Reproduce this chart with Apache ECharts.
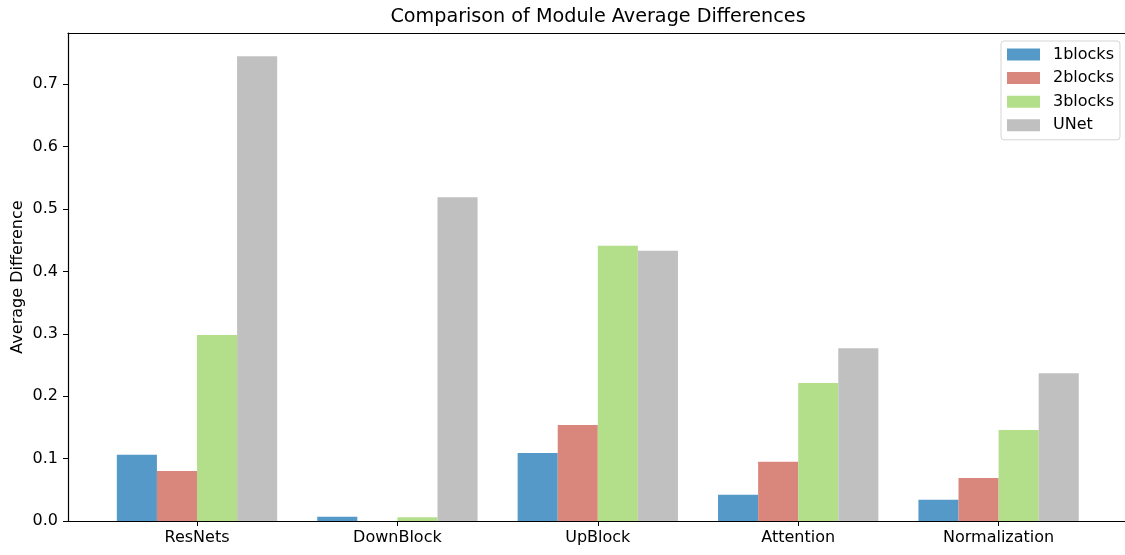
<!DOCTYPE html>
<html>
<head>
<meta charset="utf-8">
<script src="https://cdn.jsdelivr.net/npm/echarts@6/dist/echarts.min.js"></script>
<style>
html,body{margin:0;padding:0;background:#fff;}
#chart{width:1125px;height:555px;}
</style>
</head>
<body>
<div id="chart"></div>
<script>
const categories = ['ResNets', 'DownBlock', 'UpBlock', 'Attention', 'Normalization'];
const seriesNames = ['1blocks', '2blocks', '3blocks', 'UNet'];
const blocks1 = [0.106, 0.007, 0.109, 0.042, 0.034];
const blocks2 = [0.080, 0.000, 0.154, 0.095, 0.069];
const blocks3 = [0.298, 0.006, 0.441, 0.221, 0.146];
const unet = [0.745, 0.519, 0.433, 0.277, 0.237];
const yTickInterval = 0.1;
const yMax = 0.7822;

const colors = ['#5599c8', '#d9877d', '#b3df8a', '#c0c0c0'];
const values = [blocks1, blocks2, blocks3, unet];
const FONT = 'DejaVu Sans';
const FS = 16;

const chart = echarts.init(document.getElementById('chart'), null, {renderer: 'canvas'});
const option = {
  animation: false,
  backgroundColor: '#fff',
  textStyle: {fontFamily: FONT, color: '#000'},
  title: {
    text: 'Comparison of Module Average Differences',
    left: 598, textAlign: 'center', top: 8, padding: 0,
    textStyle: {fontFamily: FONT, fontSize: 19.2, fontWeight: 'normal', color: '#000'}
  },
  legend: {
    data: seriesNames,
    orient: 'vertical',
    left: 1001, top: 41,
    padding: [5.5, 6, 6.5, 6],
    itemWidth: 33, itemHeight: 12, itemGap: 7.6,
    backgroundColor: '#fff',
    borderColor: '#d5d5d5', borderWidth: 1, borderRadius: 3,
    icon: 'rect',
    textStyle: {fontFamily: FONT, fontSize: FS, color: '#000', lineHeight: 16, padding: [0, 0, 0, 8]}
  },
  grid: [
    {left: 96.8, right: 26.2, top: 33, bottom: 34},
    {left: 68, right: 0, top: 33, bottom: 34}
  ],
  xAxis: [
    {
      type: 'category', gridIndex: 0, data: categories,
      axisLine: {show: false},
      axisTick: {show: true, alignWithLabel: true, length: 5, lineStyle: {color: '#000', width: 1}},
      axisLabel: {fontFamily: FONT, fontSize: FS, color: '#000', margin: 9},
      splitLine: {show: false}
    },
    {
      type: 'value', gridIndex: 1, min: 0, max: 1, position: 'bottom',
      axisLine: {show: true, lineStyle: {color: '#000', width: 1.2}},
      axisTick: {show: false}, axisLabel: {show: false}, splitLine: {show: false}
    },
    {
      type: 'value', gridIndex: 1, min: 0, max: 1, position: 'top',
      axisLine: {show: true, lineStyle: {color: '#000', width: 1.2}},
      axisTick: {show: false}, axisLabel: {show: false}, splitLine: {show: false}
    }
  ],
  yAxis: [
    {
      type: 'value', gridIndex: 0, min: 0, max: yMax, show: false
    },
    {
      type: 'value', gridIndex: 1, min: 0, max: yMax, interval: yTickInterval,
      name: 'Average Difference', nameLocation: 'middle', nameGap: 42, nameRotate: 90,
      nameMoveOverlap: false,
      nameTextStyle: {fontFamily: FONT, fontSize: FS, color: '#000'},
      axisLine: {show: true, lineStyle: {color: '#000', width: 1.2}},
      axisTick: {show: true, length: 5, lineStyle: {color: '#000', width: 1}},
      axisLabel: {fontFamily: FONT, fontSize: FS, color: '#000', margin: 10,
        formatter: v => (v > yMax ? '' : v.toFixed(1)), showMaxLabel: false},
      splitLine: {show: false}
    }
  ],
  series: seriesNames.map((name, i) => ({
    name: name, type: 'bar', xAxisIndex: 0, yAxisIndex: 0,
    data: values[i], barWidth: '20%', barGap: '0%',
    itemStyle: {color: colors[i]}
  }))
};
chart.setOption(option);
</script>
</body>
</html>
